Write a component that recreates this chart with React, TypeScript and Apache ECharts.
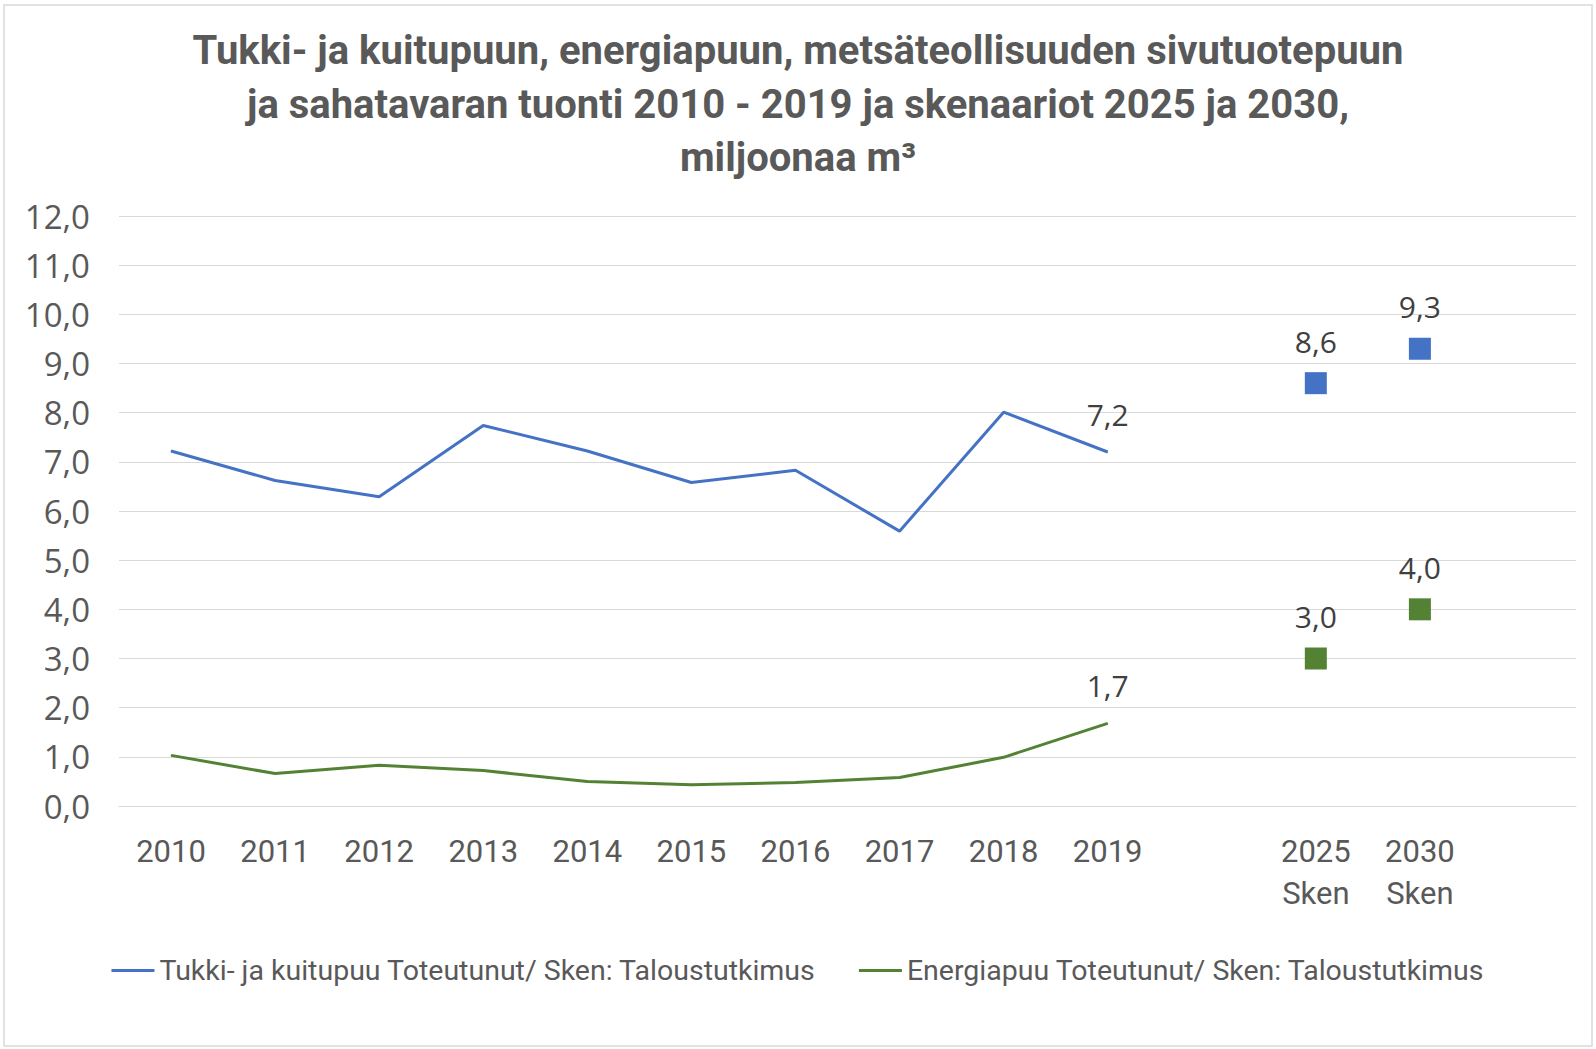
import React, { useEffect, useRef } from 'react';
import * as echarts from 'echarts';

const titleText =
  'Tukki- ja kuitupuun, energiapuun, metsäteollisuuden sivutuotepuun\nja sahatavaran tuonti 2010 - 2019 ja skenaariot 2025 ja 2030,\nmiljoonaa m³';

const categories = [
  '2010', '2011', '2012', '2013', '2014', '2015', '2016', '2017', '2018', '2019',
  '', '2025\nSken', '2030\nSken', '',
];

const seriesNames = [
  'Tukki- ja kuitupuu Toteutunut/ Sken: Taloustutkimus',
  'Energiapuu Toteutunut/ Sken: Taloustutkimus',
];

const tukkiActual = [7.22, 6.62, 6.29, 7.74, 7.22, 6.58, 6.83, 5.59, 8.01, 7.2];
const energiaActual = [1.03, 0.66, 0.83, 0.72, 0.5, 0.43, 0.48, 0.58, 0.99, 1.68];

const scenarioCategories = ['2025\nSken', '2030\nSken'];
const tukkiScenario = [8.6, 9.3];
const energiaScenario = [3.0, 4.0];

const colors = ['#4472C4', '#548235'];

const fmt = (v: number) => v.toFixed(1).replace('.', ',');

const labelStyle = {
  show: true,
  position: 'top' as const,
  fontFamily: 'Open Sans',
  fontSize: 30,
  color: '#404040',
  opacity: 1,
  formatter: (p: any) => fmt(Number(p.value)),
};

function actualData(values: number[]) {
  return categories.map((_, i) => {
    if (i >= values.length) return '-';
    if (i === values.length - 1) {
      return { value: values[i], label: { ...labelStyle, distance: 22 } };
    }
    return values[i];
  });
}

function scenarioData(values: number[]) {
  return categories.map((c) => {
    const j = scenarioCategories.indexOf(c);
    return j >= 0 ? values[j] : '-';
  });
}

export default function App() {
  const ref = useRef<HTMLDivElement>(null);

  useEffect(() => {
    if (!ref.current) return;
    const chart = echarts.init(ref.current, undefined, { renderer: 'svg' });
    const lineSeries = (name: string, values: number[], color: string) => ({
      name,
      type: 'line',
      data: actualData(values),
      showSymbol: true,
      symbol: 'circle',
      symbolSize: 1,
      itemStyle: { color },
      lineStyle: { color, width: 3 },
      label: { show: false },
      z: 3,
    });
    const scatterSeries = (name: string, values: number[], color: string) => ({
      name,
      type: 'scatter',
      data: scenarioData(values),
      symbol: 'rect',
      symbolSize: 22,
      itemStyle: { color, opacity: 1 },
      label: { ...labelStyle, distance: 16 },
      z: 4,
    });
    chart.setOption({
      animation: false,
      backgroundColor: '#ffffff',
      color: colors,
      title: {
        text: titleText,
        left: 'center',
        top: 19,
        textStyle: {
          fontFamily: 'Roboto',
          fontWeight: 'bold',
          fontSize: 40,
          color: '#595959',
          lineHeight: 53.5,
        },
      },
      grid: { left: 119, right: 20, top: 216, bottom: 243, containLabel: false },
      xAxis: {
        type: 'category',
        data: categories,
        boundaryGap: true,
        axisLine: { show: true, lineStyle: { color: '#d9d9d9', width: 1 } },
        axisTick: { show: false },
        axisLabel: {
          interval: 0,
          fontFamily: 'Roboto',
          fontSize: 31,
          color: '#595959',
          margin: 24,
          lineHeight: 42,
        },
      },
      yAxis: {
        type: 'value',
        min: 0,
        max: 12,
        interval: 1,
        axisLine: { show: false },
        axisTick: { show: false },
        splitLine: { lineStyle: { color: '#d9d9d9', width: 1 } },
        axisLabel: {
          formatter: (v: number) => fmt(v),
          fontFamily: 'Open Sans',
          fontSize: 33,
          color: '#595959',
          margin: 29,
        },
      },
      legend: {
        data: seriesNames,
        left: 'center',
        top: 956,
        icon: 'rect',
        itemWidth: 43,
        itemHeight: 3,
        itemGap: 43,
        padding: 0,
        textStyle: { fontFamily: 'Roboto', fontSize: 28.5, color: '#595959' },
      },
      graphic: [
        {
          type: 'rect',
          shape: { x: 4, y: 5, width: 1588, height: 1041 },
          style: { fill: 'none', stroke: '#d9d9d9', lineWidth: 1.5 },
          silent: true,
          z: -1,
        },
      ],
      series: [
        lineSeries(seriesNames[0], tukkiActual, colors[0]),
        lineSeries(seriesNames[1], energiaActual, colors[1]),
        scatterSeries(seriesNames[0], tukkiScenario, colors[0]),
        scatterSeries(seriesNames[1], energiaScenario, colors[1]),
      ],
    });
    return () => chart.dispose();
  }, []);

  return (
    <div
      ref={ref}
      style={{ position: 'fixed', left: 0, top: 0, width: 1596, height: 1049, background: '#fff' }}
    />
  );
}
